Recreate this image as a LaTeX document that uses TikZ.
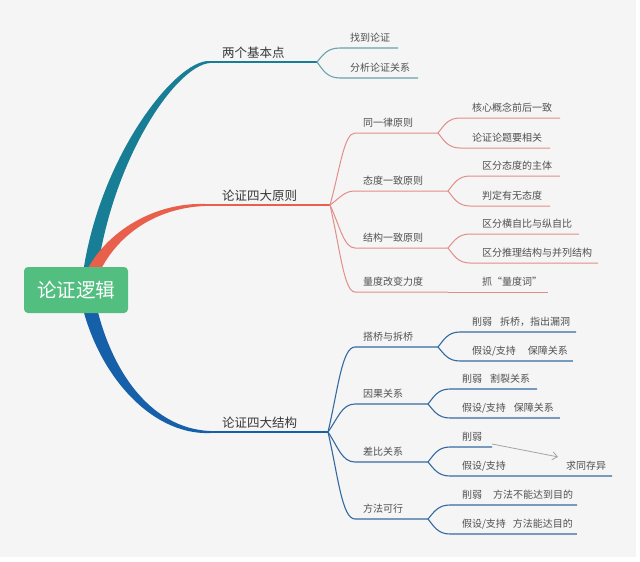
\documentclass[tikz,border=0pt]{standalone}
\usepackage{fontspec}
\setmainfont{Noto Sans CJK SC}
\usetikzlibrary{calc,arrows.meta}
\definecolor{bgc}{RGB}{245,245,245}
\definecolor{rootc}{RGB}{82,190,128}
\definecolor{tealM}{RGB}{24,126,150}
\definecolor{tealL}{RGB}{105,162,176}
\definecolor{redM}{RGB}{232,96,76}
\definecolor{redL}{RGB}{226,142,136}
\definecolor{blueM}{RGB}{22,96,170}
\definecolor{blueL}{RGB}{52,106,160}
\definecolor{txa}{RGB}{55,55,55}
\definecolor{txb}{RGB}{80,80,80}
\definecolor{arrc}{RGB}{165,165,165}
\begin{document}
\begin{tikzpicture}[x=1pt,y=-1pt,
  sc/.style={to path={.. controls ($(\tikztostart)!0.5!(\tikztostart|-\tikztotarget)+(#1,0)$) and ($(\tikztostart|-\tikztotarget)+(#1+4,0)$) .. (\tikztotarget)}},
  pad/.style 2 args={execute at begin node={\hspace*{#1}}, execute at end node={\hspace*{#2}}},
  l1/.style={anchor=south west, inner sep=0pt, outer sep=0pt, text depth=4.75pt, text=txa, font=\fontsize{12.5}{15}\selectfont},
  l2/.style={anchor=south west, inner sep=0pt, outer sep=0pt, text depth=6.2pt, text=txb, font=\fontsize{10}{12}\selectfont},
  root/.style={fill=rootc, rounded corners=4pt, minimum width=104pt, minimum height=46pt, inner sep=0pt, text=white, font=\fontsize{19.5}{22}\selectfont},
  tl/.style={draw=tealL, line width=1.1pt},
  rl/.style={draw=redL, line width=1pt},
  bl/.style={draw=blueL, line width=1.1pt}
]
\useasboundingbox (0,0) rectangle (640,562);
\fill[bgc] (0,0) rectangle (636,557);

% tapered main branches
\fill[tealM] (81.03,289.33) .. controls (93.03,164.33) and (175,58.5) .. (210,61) -- (210,63) .. controls (175,65.5) and (106.97,165.67) .. (94.97,290.67) -- cycle;
\fill[redM] (80.0,287.6) .. controls (94.4,237.8) and (150,202) .. (205,204) -- (205,206) .. controls (150,208) and (105.6,242.2) .. (92.0,292.4) -- cycle;
\fill[blueM] (92.9,288.8) .. controls (106.9,368.8) and (150,428.5) .. (210,431) -- (210,433) .. controls (150,435.5) and (93.1,371.2) .. (79.1,291.2) -- cycle;

\node[root] (root) at (76,290) {论证逻辑};

% level 1
\coordinate (T1) at (209,62);
\coordinate (T2) at (204,205);
\coordinate (T3) at (209,432);
\coordinate (J1) at (317,62);
\coordinate (J2) at (330,205);
\coordinate (J3) at (328,432);
\node[l1] (b1) at (222,62) {两个基本点};
\node[l1] (b2) at (222,205) {论证四大原则};
\node[l1] (b3) at (222,432) {论证四大结构};
\draw[tealM, line width=2pt] (T1) -- ([xshift=12pt]b1.south east);
\draw[tealM, line width=1.2pt] ([xshift=12pt]b1.south east) -- (J1);
\draw[redM, line width=1.8pt] (T2) -- (J2);
\draw[blueM, line width=2pt] (T3) -- ([xshift=13pt]b3.south east);
\draw[blueM, line width=1.2pt] ([xshift=13pt]b3.south east) -- (J3);

% teal children
\node[l2, pad={10pt}{8pt}] (t1) at (340,48) {找到论证};
\node[l2, pad={10pt}{8pt}] (t2) at (340,78) {分析论证关系};
\draw[tl] (J1) to[sc=6] (t1.south west) -- (t1.south east);
\draw[tl] (J1) to[sc=6] (t2.south west) -- (t2.south east);

% red children
\node[l2, pad={8pt}{0pt}] (n21) at (355,133) {同一律原则};
\node[l2, pad={8pt}{0pt}] (n22) at (355,191) {态度一致原则};
\node[l2, pad={8pt}{0pt}] (n23) at (355,248) {结构一致原则};
\node[l2, pad={8pt}{0pt}] (n24) at (355,292) {量度改变力度};
\coordinate (G21) at (438,133);
\coordinate (G22) at (448,191);
\coordinate (G23) at (448,248);
\coordinate (G24) at (448,292);
\draw[rl] (J2) to[sc=10] (n21.south west) -- (G21);
\draw[rl] (J2) to[sc=10] (n22.south west) -- (G22);
\draw[rl] (J2) to[sc=10] (n23.south west) -- (G23);
\draw[rl] (J2) to[sc=10] (n24.south west) -- (G24);

\node[l2, pad={12pt}{8pt}] (g211) at (460,118) {核心概念前后一致};
\node[l2, pad={12pt}{8pt}] (g212) at (460,148) {论证论题要相关};
\node[l2, pad={12pt}{8pt}] (g221) at (470,176) {区分态度的主体};
\node[l2, pad={12pt}{8pt}] (g222) at (470,206) {判定有无态度};
\node[l2, pad={12pt}{7pt}] (g231) at (470,234) {区分横自比与纵自比};
\node[l2, pad={12pt}{6pt}] (g232) at (470,263) {区分推理结构与并列结构};
\node[l2, pad={12pt}{6pt}] (g241) at (470,292) {抓\makebox[1em][r]{“}量度词\makebox[1em][l]{”}};
\draw[rl] (G21) to[sc=6] (g211.south west) -- (g211.south east);
\draw[rl] (G21) to[sc=6] (g212.south west) -- (g212.south east);
\draw[rl] (G22) to[sc=6] (g221.south west) -- (g221.south east);
\draw[rl] (G22) to[sc=6] (g222.south west) -- (g222.south east);
\draw[rl] (G23) to[sc=6] (g231.south west) -- (g231.south east);
\draw[rl] (G23) to[sc=6] (g232.south west) -- (g232.south east);
\draw[rl] (G24) -- (g241.south east);

% blue children
\node[l2, pad={8pt}{0pt}] (n31) at (355,347) {搭桥与拆桥};
\node[l2, pad={8pt}{0pt}] (n32) at (355,404) {因果关系};
\node[l2, pad={8pt}{0pt}] (n33) at (355,462) {差比关系};
\node[l2, pad={8pt}{0pt}] (n34) at (355,519) {方法可行};
\coordinate (G31) at (438,347);
\coordinate (G32) at (428,404);
\coordinate (G33) at (428,462);
\coordinate (G34) at (428,519);
\draw[bl] (J3) to[sc=10] (n31.south west) -- (G31);
\draw[bl] (J3) to[sc=10] (n32.south west) -- (G32);
\draw[bl] (J3) to[sc=10] (n33.south west) -- (G33);
\draw[bl] (J3) to[sc=10] (n34.south west) -- (G34);

\node[l2, pad={12pt}{6pt}] (g311) at (460,332) {削弱\hspace{8pt}拆桥，指出漏洞};
\node[l2, pad={12pt}{5pt}] (g312) at (460,361) {假设/支持\hspace{12pt}保障关系};
\node[l2, pad={12pt}{7pt}] (g321) at (450,389) {削弱\hspace{8pt}割裂关系};
\node[l2, pad={12pt}{6pt}] (g322) at (450,418) {假设/支持\hspace{8pt}保障关系};
\node[l2, pad={12pt}{10pt}] (g331) at (450,447) {削弱};
\node[l2, pad={12pt}{0pt}] (g332) at (450,476) {假设/支持};
\node[l2, pad={0pt}{6pt}] (q) at (566,476) {求同存异};
\node[l2, pad={12pt}{4pt}] (g341) at (450,505) {削弱\hspace{11pt}方法不能达到目的};
\node[l2, pad={12pt}{4pt}] (g342) at (450,534) {假设/支持\hspace{7pt}方法能达目的};
\draw[bl] (G31) to[sc=6] (g311.south west) -- (g311.south east);
\draw[bl] (G31) to[sc=6] (g312.south west) -- (g312.south east);
\draw[bl] (G32) to[sc=6] (g321.south west) -- (g321.south east);
\draw[bl] (G32) to[sc=6] (g322.south west) -- (g322.south east);
\draw[bl] (G33) to[sc=6] (g331.south west) -- (g331.south east);
\draw[bl] (G33) to[sc=6] (g332.south west) -- (q.south east);
\draw[bl] (G34) to[sc=6] (g341.south west) -- (g341.south east);
\draw[bl] (G34) to[sc=6] (g342.south west) -- (g342.south east);

\draw[arrc, line width=0.8pt, -{Straight Barb[length=5pt,width=8pt]}] ([yshift=3pt]g331.south east) -- ([shift={(-8pt,4.5pt)}]q.north west);
\end{tikzpicture}
\end{document}
